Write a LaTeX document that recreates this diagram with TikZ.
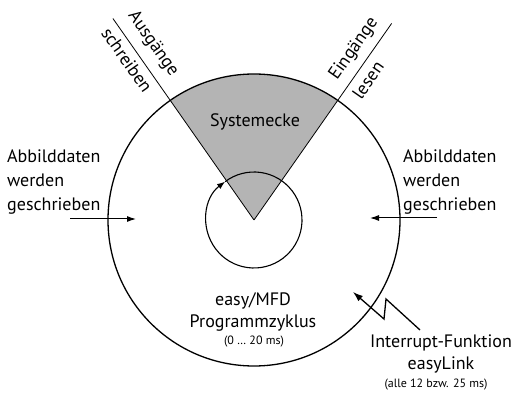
\documentclass[tikz,border=0pt]{standalone}
\usepackage{fontspec}
\setmainfont{PT Sans}
\usetikzlibrary{arrows.meta,calc}
\definecolor{sectorgray}{RGB}{180,180,180}
\begin{document}
\begin{tikzpicture}[x=1pt,y=-1pt,
  lbl/.style={font=\fontsize{18}{24}\selectfont, inner sep=0pt},
  lbltwo/.style={font=\fontsize{18}{21.5}\selectfont, inner sep=0pt, align=center},
  small/.style={font=\fontsize{12}{14}\selectfont, inner sep=0pt},
  conn/.style={line width=1pt, -{Latex[length=9pt,width=6pt]}},
  bolt/.style={line width=1.3pt, -{Latex[length=10pt,width=7pt]}}]
\useasboundingbox (0,0) rectangle (514,395);
\coordinate (c) at (254,220);
% sector
\fill[sectorgray] (c) -- ($(c)+(-125:146)$) arc[start angle=-125, end angle=-55, radius=146] -- cycle;
\draw[line width=0.8pt] (c) -- ++(-125:246) coordinate (la);
\draw[line width=0.8pt] (c) -- ++(-55:240) coordinate (ra);
% circles
\draw[line width=1.3pt] (c) circle[radius=146];
\draw[line width=1.1pt, -{Latex[length=8pt,width=6pt]}] ($(c)+(-127:48)$) arc[start angle=-127, end angle=233, radius=48];
% texts
\node[lbl] (sys) at (255,122) {Systemecke};
\node[lbl, rotate=-55] (aus) at (153,44) {Ausgänge};
\node[lbl, rotate=-55] (schr) at (127,60) {schreiben};
\node[lbl, rotate=55] (ein) at (354,49) {Eingänge};
\node[lbl, rotate=55] (les) at (368,80) {lesen};
\node[lbl, align=left, anchor=west] (left) at (7,182) {Abbilddaten\\werden\\geschrieben};
\node[lbl, align=left, anchor=west] (right) at (403,182) {Abbilddaten\\werden\\geschrieben};
\node[lbltwo] (prog) at (253,312) {easy/MFD\\Programmzyklus};
\node[small] (progt) at (254,342) {(0 … 20 ms)};
\node[lbltwo] (intr) at (441,354) {Interrupt-Funktion\\easyLink};
\node[small] (intrt) at (436,385) {(alle 12 bzw. 25 ms)};
% arrows
\coordinate (l0) at (70,219);
\coordinate (l1) at (136,219);
\coordinate (r0) at (437,218);
\coordinate (r1) at (370,218);
\draw[conn] (l0) -- (l1);
\draw[conn] (r0) -- (r1);
\coordinate (b0) at (420,330);
\coordinate (b1) at (386,299);
\coordinate (b2) at (384,319);
\coordinate (b3) at (353,292);
\draw[bolt] (b0) -- (b1) -- (b2) -- (b3);
\end{tikzpicture}
\end{document}
